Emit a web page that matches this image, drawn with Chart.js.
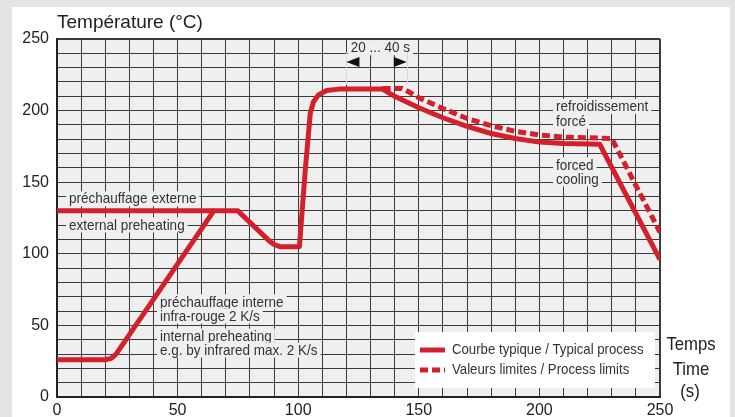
<!DOCTYPE html>
<html>
<head>
<meta charset="utf-8">
<script src="https://cdn.jsdelivr.net/npm/chart.js@4"></script>
<style>
  html, body { margin: 0; padding: 0; background: #e4e4e4; overflow: hidden; }
  #panel { position: absolute; left: 12px; top: 7px; width: 718px; height: 420px; background: #ffffff; }
  #chart { position: absolute; left: 0; top: 0; }
</style>
</head>
<body>
<div id="panel"></div>
<canvas id="chart" width="735" height="417"></canvas>
<script>
// --- data (time in s, temperature in °C) ---
const typicalTime = [0, 20, 22.5, 24.5, 65, 75, 88, 90, 92.5, 100.5, 103, 105, 106.3, 108.4, 111.8, 117, 135,
                     140, 145, 150, 160, 170, 180, 190, 200, 210, 225, 250];
const typicalTemp = [26, 26, 27, 30, 130, 130, 109, 106.5, 105, 105, 160, 198, 206, 211, 214, 215, 215,
                     210, 206, 202, 195, 189, 184, 180.5, 178, 177, 176.5, 96];

// external preheating branch, same style as the typical curve
const externalTime = [0, 65];
const externalTemp = [130, 130];

const limitsTime = [135, 143, 146, 150, 160, 170, 180, 190, 200, 210, 220, 230, 250];
const limitsTemp = [215.5, 215.5, 213, 209, 201.5, 194.5, 189.5, 185.5, 183, 181.5, 181, 180.5, 115];

const xTickLabels = [0, 50, 100, 150, 200, 250];
const yTickLabels = [0, 50, 100, 150, 200, 250];

const legendLabels = ["Courbe typique / Typical process", "Valeurs limites / Process limits"];

// text notes on the plot, anchored in data units (left edge, vertical centre)
const notes = [
  { text: "préchauffage externe", x: 5.0, y: 138.4 },
  { text: "external preheating", x: 5.0, y: 120.2 },
  { text: "préchauffage interne", x: 42.7, y: 66.4 },
  { text: "infra-rouge 2 K/s", x: 42.7, y: 56.6 },
  { text: "internal preheating", x: 42.7, y: 42.6 },
  { text: "e.g. by infrared max. 2 K/s", x: 42.7, y: 32.8 },
  { text: "refroidissement", x: 206.9, y: 202.9 },
  { text: "forcé", x: 206.9, y: 192.4 },
  { text: "forced", x: 206.9, y: 162.1 },
  { text: "cooling", x: 206.9, y: 152.3 },
  { text: "20 ... 40 s", x: 121.8, y: 243.9 }
];

const RED = "#d4202b";
const FONT = "'Liberation Sans', Arial, Helvetica, sans-serif";
const PLOT_BG = "#efefef";

function toPoints(xs, ys) {
  return xs.map((x, i) => ({ x: x, y: ys[i] }));
}

// draws condensed text (the original uses a narrow Helvetica)
function narrowText(ctx, text, x, y, size, align, squeeze) {
  const sx = squeeze || 0.9;
  ctx.save();
  ctx.font = size + "px " + FONT;
  ctx.textBaseline = "middle";
  ctx.textAlign = "left";
  const w = ctx.measureText(text).width * sx;
  let left = x;
  if (align === "center") left = x - w / 2;
  if (align === "right") left = x - w;
  ctx.translate(left, y);
  ctx.scale(sx, 1);
  ctx.fillText(text, 0, 0);
  ctx.restore();
  return w;
}

function textWidth(ctx, text, size, squeeze) {
  ctx.save();
  ctx.font = size + "px " + FONT;
  const w = ctx.measureText(text).width * (squeeze || 0.9);
  ctx.restore();
  return w;
}

const plotDecor = {
  id: "plotDecor",
  beforeDraw(chart) {
    const { ctx, chartArea: a } = chart;
    ctx.save();
    ctx.fillStyle = PLOT_BG;
    ctx.fillRect(a.left, a.top, a.right - a.left, a.bottom - a.top);
    ctx.restore();
  },
  beforeDatasetsDraw(chart) {
    const { ctx, scales } = chart;
    const xs = scales.x, ys = scales.y;

    // note boxes hide the grid behind the text
    ctx.save();
    notes.forEach(n => {
      const px = xs.getPixelForValue(n.x);
      const py = ys.getPixelForValue(n.y);
      const w = textWidth(ctx, n.text, 15);
      ctx.fillStyle = PLOT_BG;
      ctx.fillRect(px - 3, py - 7.5, w + 6, 15);
      ctx.fillStyle = "#333333";
      narrowText(ctx, n.text, px, py + 0.5, 15, "left");
    });

    // 20 ... 40 s markers
    const yTop = ys.getPixelForValue(240.5);
    const yLow = ys.getPixelForValue(218);
    const yArrow = ys.getPixelForValue(234);
    const xa = xs.getPixelForValue(120);
    const xm = xs.getPixelForValue(130);
    const xb = xs.getPixelForValue(145);
    ctx.strokeStyle = "#d8d8d8";
    ctx.lineWidth = 1;
    ctx.beginPath();
    ctx.moveTo(Math.round(xa) + 0.5, yTop); ctx.lineTo(Math.round(xa) + 0.5, yLow);
    ctx.moveTo(Math.round(xb) + 0.5, yTop); ctx.lineTo(Math.round(xb) + 0.5, yLow);
    ctx.moveTo(Math.round(xm) + 0.5, yTop); ctx.lineTo(Math.round(xm) + 0.5, yTop + 8);
    ctx.stroke();
    ctx.fillStyle = "#111111";
    ctx.beginPath();
    ctx.moveTo(xa, yArrow); ctx.lineTo(xa + 13, yArrow - 5); ctx.lineTo(xa + 13, yArrow + 5); ctx.closePath();
    ctx.moveTo(xb, yArrow); ctx.lineTo(xb - 13, yArrow - 5); ctx.lineTo(xb - 13, yArrow + 5); ctx.closePath();
    ctx.fill();
    ctx.restore();
  },
  afterDraw(chart) {
    const { ctx, chartArea: a } = chart;

    // axis titles
    ctx.save();
    ctx.fillStyle = "#222222";
    ctx.font = "19px " + FONT;
    ctx.textBaseline = "middle";
    ctx.fillText("Température (°C)", a.left, 23);
    narrowText(ctx, "Temps", 691, 345, 19, "center", 0.88);
    narrowText(ctx, "Time", 691, 370, 19, "center", 0.88);
    narrowText(ctx, "(s)", 690, 392, 19, "center", 0.88);

    // legend box, bottom right of the plot
    const bw = 240, bh = 56;
    const bx = a.right - 5 - bw, by = a.bottom - 9 - bh;
    ctx.fillStyle = "#ffffff";
    ctx.fillRect(bx, by, bw, bh);
    const sets = chart.data.datasets.filter(d => d.label);
    sets.forEach((d, i) => {
      const ly = by + 18 + i * 20;
      ctx.strokeStyle = d.borderColor;
      ctx.lineWidth = 5;
      ctx.setLineDash(d.borderDash || []);
      ctx.beginPath();
      ctx.moveTo(bx + 5, ly);
      ctx.lineTo(bx + 30, ly);
      ctx.stroke();
      ctx.setLineDash([]);
      ctx.fillStyle = "#333333";
      narrowText(ctx, d.label, bx + 37, ly, 15, "left", 0.88);
    });
    ctx.restore();
  }
};

const lineStyle = {
  borderColor: RED,
  borderWidth: 5,
  pointRadius: 0,
  tension: 0,
  fill: false,
  borderJoinStyle: "round",
  borderCapStyle: "butt"
};

new Chart(document.getElementById("chart"), {
  type: "line",
  data: {
    datasets: [
      Object.assign({ label: legendLabels[0], data: toPoints(typicalTime, typicalTemp) }, lineStyle),
      Object.assign({ label: "", data: toPoints(externalTime, externalTemp) }, lineStyle),
      Object.assign({ label: legendLabels[1], data: toPoints(limitsTime, limitsTemp), borderDash: [8, 4] }, lineStyle, { borderJoinStyle: "miter" })
    ]
  },
  options: {
    responsive: false,
    animation: false,
    layout: { padding: { top: 39, right: 75, left: 0, bottom: 0 } },
    plugins: { legend: { display: false }, tooltip: { enabled: false } },
    scales: {
      x: {
        type: "linear", min: 0, max: 250,
        ticks: {
          stepSize: 10, autoSkip: false, maxRotation: 0, padding: 4,
          color: "#222222", font: { family: FONT, size: 16 },
          callback: v => xTickLabels.includes(v) ? String(v) : ""
        },
        grid: {
          color: "#3a3a3a", drawTicks: false,
          lineWidth: c => (c.tick && c.tick.value === 250) ? 2 : 1
        },
        border: { color: "#222222", width: 2 },
        afterFit: s => { s.height = 20; }
      },
      y: {
        type: "linear", min: 0, max: 250,
        ticks: {
          stepSize: 10, autoSkip: false, padding: 8,
          color: "#222222", font: { family: FONT, size: 16 },
          callback: v => yTickLabels.includes(v) ? String(v) : ""
        },
        grid: {
          color: "#3a3a3a", drawTicks: false,
          lineWidth: c => (c.tick && c.tick.value === 250) ? 2 : 1
        },
        border: { color: "#222222", width: 2 },
        afterFit: s => { s.width = 57; }
      }
    }
  },
  plugins: [plotDecor]
});
</script>
</body>
</html>
